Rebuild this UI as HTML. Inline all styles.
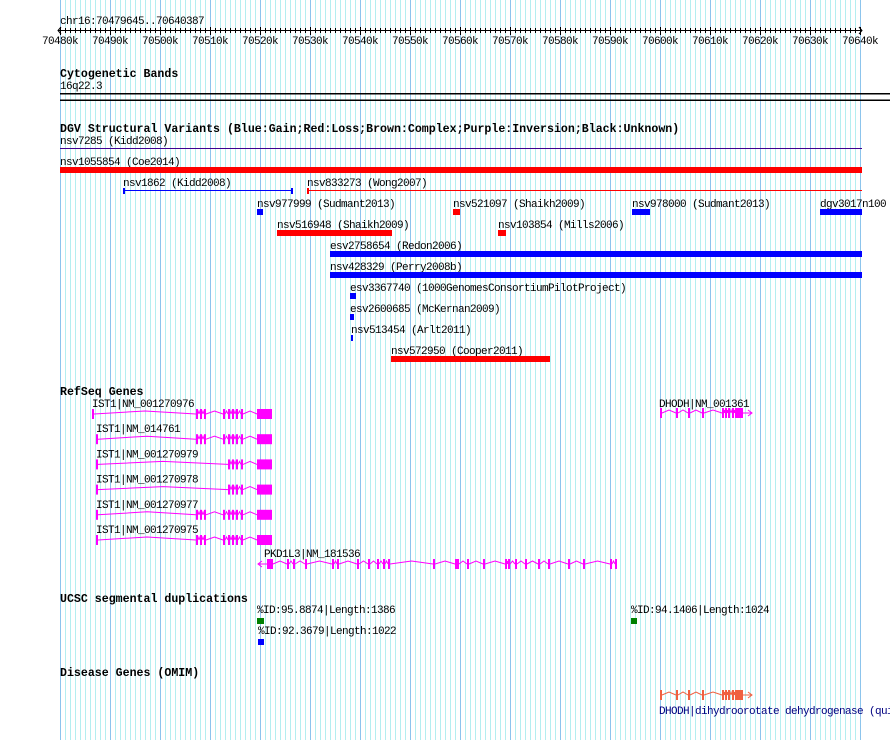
<!DOCTYPE html>
<html><head><meta charset="utf-8"><style>
html,body{margin:0;padding:0;background:#fff;width:890px;height:740px;overflow:hidden}
svg text{font-family:"Liberation Mono",monospace;font-size:11px;letter-spacing:-0.6px;fill:#000}
svg text.h{font-weight:bold;font-size:11.6px;letter-spacing:0px}
</style></head><body>
<svg id="chart" width="890" height="740" xmlns="http://www.w3.org/2000/svg">
<g id="grid"></g>
<g id="axis"></g>
<g id="tracks"></g>
</svg>
<script>
// ---- data (positions in kb) ----
const axisTicks = [70480,70490,70500,70510,70520,70530,70540,70550,70560,70570,70580,70590,70600,70610,70620,70630,70640];
const svNames = ["nsv7285 (Kidd2008)","nsv1055854 (Coe2014)","nsv1862 (Kidd2008)","nsv833273 (Wong2007)","nsv977999 (Sudmant2013)","nsv521097 (Shaikh2009)","nsv978000 (Sudmant2013)","dgv3017n100","nsv516948 (Shaikh2009)","nsv103854 (Mills2006)","esv2758654 (Redon2006)","nsv428329 (Perry2008b)","esv3367740 (1000GenomesConsortiumPilotProject)","esv2600685 (McKernan2009)","nsv513454 (Arlt2011)","nsv572950 (Cooper2011)"];
const svStart = [70450,70450,70492.6,70529.4,70519.4,70558.6,70594.4,70632,70523.4,70567.6,70534,70534,70538,70538,70538.2,70546.2];
const svEnd   = [70700,70700,70526.6,70700,70520.6,70560,70598,70700,70546.4,70569.2,70700,70700,70539.2,70538.8,70538.6,70578];
const svType  = ["inv","loss","gain","loss","gain","loss","gain","gain","loss","loss","gain","gain","gain","gain","gain","loss"];
const svRow   = [0,1,2,2,3,3,3,3,4,4,5,6,7,8,9,10];
const svStyle = ["line","bar","line","line","bar","bar","bar","bar","bar","bar","bar","bar","bar","bar","bar","bar"];

const istNames = ["IST1|NM_001270976","IST1|NM_014761","IST1|NM_001270979","IST1|NM_001270978","IST1|NM_001270977","IST1|NM_001270975"];
const istStart = [70486.4,70487.2,70487.2,70487.2,70487.2,70487.2];
const istEnd = [70522.4,70522.4,70522.4,70522.4,70522.4,70522.4];
const istExonsFull = [[70486.4,70486.8],[70507.2,70507.6],[70508,70508.4],[70508.8,70509.2],[70512.6,70513],[70513.6,70514],[70514.4,70514.8],[70515.2,70515.6],[70516.2,70516.6],[70519.4,70522.4]];
const istExonsShort = [[70487.2,70487.6],[70513.6,70514],[70514.4,70514.8],[70515.2,70515.6],[70516.2,70516.6],[70519.4,70522.4]];
const istUsesShort = [0,0,1,1,0,0];

const pkdStart = 70519.6, pkdEnd = 70591.6;
const pkdExons = [70521.4,70525.4,70526.6,70529,70534.4,70535.4,70539.4,70541.6,70543.4,70544.6,70545.6,70554.6,70559,70559.4,70561.4,70564.6,70569,70569.6,70571,70573,70575.6,70577.6,70581.6,70584.6,70590,70591];
const dhodhStart = 70599.8, dhodhEnd = 70618.4;
const dhodhExons = [70600,70603.2,70605.6,70608.4,70612.4,70613,70613.6,70614.4];
const dhodhLastExon = [70615,70616.6];

const segLabels = ["%ID:95.8874|Length:1386","%ID:92.3679|Length:1022","%ID:94.1406|Length:1024"];
const segStart = [70519.4,70519.6,70594.2];
const segEnd = [70520.8,70520.8,70595.4];
const segColor = ["green","blue","green"];
const segRow = [0,1,0];

// ---- scales ----
const X0=60, PXKB=5, K0=70480;
function x(kb){return X0+(kb-K0)*PXKB;}
function cx(kb){return Math.max(60,Math.min(862,x(kb)));}
const NS="http://www.w3.org/2000/svg";
function el(parent,tag,attrs,txt){const e=document.createElementNS(NS,tag);for(const k in attrs)e.setAttribute(k,attrs[k]);if(txt!==undefined)e.textContent=txt;parent.appendChild(e);return e;}

// grid
const grid=document.getElementById('grid');
for(let k=70480;k<=70640;k++){
  const major=(k%10===0);
  const l=el(grid,'line',{x1:x(k)+0.5,x2:x(k)+0.5,y1:0,y2:740,stroke:major?'#8cc4ec':'#b4eef0','stroke-width':1});
  
  
}
// axis
const ax=document.getElementById('axis');
const t0=el(ax,'text',{x:60,y:24},'chr16:70479645..70640387');

el(ax,'line',{x1:58,x2:862,y1:30.5,y2:30.5,stroke:'#000'});
el(ax,'path',{d:'M61,27 L58,30.5 L61,34 M859,27 L862,30.5 L859,34',stroke:'#000',fill:'none'});
for(let k=70480;k<=70640;k+=1){el(ax,'line',{x1:x(k)+0.5,x2:x(k)+0.5,y1:28,y2:33,stroke:'#000'});}
axisTicks.forEach(k=>{
  el(ax,'line',{x1:x(k)+0.5,x2:x(k)+0.5,y1:27,y2:35,stroke:'#000'});
  const t=el(ax,'text',{x:x(k),y:44,'text-anchor':'middle'},(k)+'k');
  
});

const tr=document.getElementById('tracks');
function heading(txt,y,name){const t=el(tr,'text',{x:60,y:y,class:'h'},txt);}
heading('Cytogenetic Bands',77,'cytogenetic-bands-title');
let tb=el(tr,'text',{x:60,y:89},'16q22.3');
el(tr,'rect',{x:60,y:93,width:830,height:1.5,fill:'#000'});
el(tr,'rect',{x:60,y:99.5,width:830,height:1.5,fill:'#000'});

heading('DGV Structural Variants (Blue:Gain;Red:Loss;Brown:Complex;Purple:Inversion;Black:Unknown)',132,'dgv-track-title');
const typeColor={gain:'#0000ff',loss:'#ff0000',inv:'#400090'};
svNames.forEach((n,i)=>{
  const rowY=144+svRow[i]*21;
  const g=el(tr,'g',{});
  
  
  const x1=cx(svStart[i]),x2=cx(svEnd[i]);
  el(g,'text',{x:Math.max(60,x1),y:rowY},n);
  const c=typeColor[svType[i]];
  if(svStyle[i]==='line'){
    el(g,'line',{x1:x1,x2:x2,y1:rowY+4.5,y2:rowY+4.5,stroke:c});
    if(svStart[i]>70480) el(g,'rect',{x:x1,y:rowY+2,width:2,height:6,fill:c});
    if(svEnd[i]<70640) el(g,'rect',{x:x2-2,y:rowY+2,width:2,height:6,fill:c});
  } else {
    el(g,'rect',{x:x1,y:rowY+2,width:Math.max(2,x2-x1),height:6,fill:c});
  }
});

heading('RefSeq Genes',395,'refseq-track-title');
function drawGene(parent,start,end,exList,yc,color,opts){
  const xs=x(start),xe=x(end);
  const sorted=exList.slice().sort((a,b)=>a[0]-b[0]);
  let pts=[];
  for(let i=0;i<sorted.length-1;i++){
    const a=x(sorted[i][1]),b=x(sorted[i+1][0]);
    if(b-a>1){const m=(a+b)/2;pts.push(`M${a},${yc} L${m},${yc-3} L${b},${yc}`);}
  }
  el(parent,'path',{d:pts.join(' '),stroke:color,fill:'none','stroke-width':1});
  sorted.forEach(e=>{const w=Math.max(2,x(e[1])-x(e[0]));el(parent,'rect',{x:x(e[0]),y:yc-5,width:w,height:10,fill:color});});
  if(opts&&opts.arrowLeft){el(parent,'path',{d:`M${xs+4},${yc-3} L${xs},${yc} L${xs+4},${yc+3} M${xs},${yc} L${x(sorted[0][0])},${yc}`,stroke:color,fill:'none'});}
  if(opts&&opts.arrowRight){el(parent,'path',{d:`M${x(sorted[sorted.length-1][1])},${yc} L${xe},${yc} M${xe-4},${yc-3} L${xe},${yc} L${xe-4},${yc+3}`,stroke:color,fill:'none'});}
}
const MAG='#ff00ff';
istNames.forEach((n,i)=>{
  const g=el(tr,'g',{});
  
  
  const yc=414+i*25.2;
  el(g,'text',{x:x(istStart[i]),y:yc-7},n);
  let ex=istUsesShort[i]?istExonsShort.slice():istExonsFull.slice();
  ex[0]=[istStart[i],istStart[i]+0.4];
  drawGene(g,istStart[i],istEnd[i],ex,yc,MAG);
});
(function(){
  const g=el(tr,'g',{});
  
  
  el(g,'text',{x:x(pkdStart)+6,y:557},'PKD1L3|NM_181536');
  const ex=pkdExons.map((k,i)=>[k,k+(i===0?1.2:0.4)]);
  drawGene(g,pkdStart,pkdEnd,ex,564,MAG,{arrowLeft:true});
})();
function dhodh(yc,color,name){
  const g=el(tr,'g',{});
  
  
  const ex=dhodhExons.map(k=>[k,k+0.4]);ex.push(dhodhLastExon);
  drawGene(g,dhodhStart,dhodhEnd,ex,yc,color,{arrowRight:true});
  return g;
}
const dg=dhodh(413,MAG,'transcript-DHODH');
el(dg,'text',{x:x(dhodhStart),y:407},'DHODH|NM_001361');

heading('UCSC segmental duplications',602,'segdup-track-title');
segLabels.forEach((l,i)=>{
  const g=el(tr,'g',{});
  
  
  const yr=613+segRow[i]*21;
  el(g,'text',{x:x(segStart[i]),y:yr},l);
  el(g,'rect',{x:x(segStart[i]),y:yr+5,width:x(segEnd[i])-x(segStart[i]),height:6,fill:segColor[i]==='green'?'#008000':'#0000ff'});
});

heading('Disease Genes (OMIM)',676,'omim-track-title');
const og=dhodh(695,'#f06040','omim-DHODH');
const ot=el(og,'text',{x:x(dhodhStart),y:714,style:'fill:#000080'},'DHODH|dihydroorotate dehydrogenase (quinone)');
</script>
</body></html>
